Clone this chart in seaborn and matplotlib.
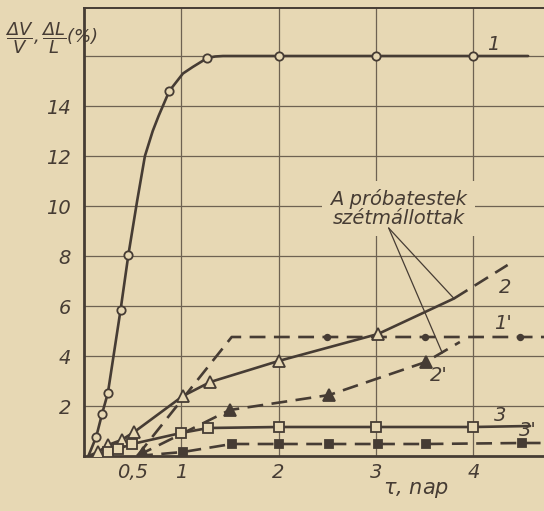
import matplotlib
matplotlib.use("Agg")
import matplotlib.pyplot as plt
import seaborn as sns
import pandas as pd

PAPER = "#e7d8b4"
INK = "#463c34"
GRID = "#6e6252"

# curve 1 - solid line, open circles (trace)
c1_line_x = [0.05, 0.13, 0.19, 0.25, 0.38, 0.46, 0.55, 0.63, 0.71, 0.77, 0.88, 1.02, 1.12, 1.27, 1.35, 1.43, 2.0, 3.0, 4.0, 4.56]
c1_line_y = [0.0, 0.76, 1.68, 2.52, 5.84, 8.04, 10.2, 12.0, 13.0, 13.6, 14.6, 15.3, 15.56, 15.92, 15.98, 16.0, 16.0, 16.0, 16.0, 16.0]
c1_pts_x = [0.13, 0.19, 0.25, 0.38, 0.46, 0.88, 1.27, 2.0, 3.0, 4.0]
c1_pts_y = [0.76, 1.68, 2.52, 5.84, 8.04, 14.6, 15.92, 16.0, 16.0, 16.0]

# curve 1' - dashed, small dots
c1p_x = [0.55, 1.52, 2.5, 3.5, 4.48, 4.75]
c1p_y = [0.0, 4.76, 4.76, 4.76, 4.76, 4.76]
c1p_pts_x = [2.5, 3.5, 4.48]
c1p_pts_y = [4.76, 4.76, 4.76]

# curve 2 - solid up to the break, then dashed
c2_x = [0.05, 0.15, 0.25, 0.39, 0.52, 1.02, 1.3, 2.0, 3.02, 3.8]
c2_y = [0.0, 0.16, 0.44, 0.64, 0.96, 2.4, 2.96, 3.8, 4.88, 6.3]
c2_pts_x = [0.15, 0.25, 0.39, 0.52, 1.02, 1.3, 2.0, 3.02]
c2_pts_y = [0.16, 0.44, 0.64, 0.96, 2.4, 2.96, 3.8, 4.88]
c2_tail_x = [3.8, 4.35]
c2_tail_y = [6.3, 7.64]

# curve 2' - dashed, filled triangles
c2p_x = [0.55, 0.61, 1.5, 2.52, 3.51, 3.86]
c2p_y = [0.0, 0.12, 1.84, 2.44, 3.76, 4.56]
c2p_pts_x = [0.61, 1.5, 2.52, 3.51]
c2p_pts_y = [0.12, 1.84, 2.44, 3.76]

# curve 3 - solid, open squares
c3_x = [0.05, 0.25, 0.35, 0.5, 1.0, 1.28, 2.0, 3.0, 4.0, 4.58]
c3_y = [0.0, 0.16, 0.28, 0.48, 0.92, 1.12, 1.16, 1.16, 1.16, 1.2]
c3_pts_x = [0.25, 0.35, 0.5, 1.0, 1.28, 2.0, 3.0, 4.0]
c3_pts_y = [0.16, 0.28, 0.48, 0.92, 1.12, 1.16, 1.16, 1.16]

# curve 3' - dashed, filled squares
c3p_x = [0.55, 1.02, 1.52, 2.0, 2.52, 3.02, 3.51, 4.5, 4.75]
c3p_y = [0.0, 0.16, 0.48, 0.48, 0.48, 0.48, 0.48, 0.52, 0.52]
c3p_pts_x = [1.02, 1.52, 2.0, 2.52, 3.02, 3.51, 4.5]
c3p_pts_y = [0.16, 0.48, 0.48, 0.48, 0.48, 0.48, 0.52]

y_ticks = [2, 4, 6, 8, 10, 12, 14, 16]
y_labels = ["2", "4", "6", "8", "10", "12", "14", ""]
x_ticks = [1, 2, 3, 4]
x_labels = ["1", "2", "3", "4"]

sns.set_style("white")
plt.rcParams["font.family"] = ["DejaVu Sans"]
plt.rcParams["font.style"] = "italic"
plt.rcParams["mathtext.fontset"] = "dejavusans"

fig = plt.figure(figsize=(5.44, 5.11), dpi=100, facecolor=PAPER)
ax = fig.add_axes([83.5 / 544, 55 / 511, 1 - 83.5 / 544, 448 / 511])
ax.set_facecolor(PAPER)

DASH_LS = (0, (6, 3.2))

def line(xs, ys, dashed=False):
    sns.lineplot(data=pd.DataFrame({"x": xs, "y": ys}), x="x", y="y", ax=ax,
                 color=INK, lw=1.9, sort=False, estimator=None, zorder=3,
                 linestyle=DASH_LS if dashed else "-")

def pts(xs, ys, marker, size, filled):
    ax.plot(xs, ys, ls="none", marker=marker, ms=size, mec=INK, mew=1.3,
            mfc=INK if filled else PAPER, zorder=4)

line(c1_line_x, c1_line_y)
pts(c1_pts_x, c1_pts_y, "o", 6, False)

line(c1p_x, c1p_y, dashed=True)
pts(c1p_pts_x, c1p_pts_y, "o", 4, True)

line(c2_x, c2_y)
line(c2_tail_x, c2_tail_y, dashed=True)
pts(c2_pts_x, c2_pts_y, "^", 9, False)

line(c2p_x, c2p_y, dashed=True)
pts(c2p_pts_x, c2p_pts_y, "^", 9, True)

line(c3_x, c3_y)
pts(c3_pts_x, c3_pts_y, "s", 7, False)

line(c3p_x, c3p_y, dashed=True)
pts(c3p_pts_x, c3p_pts_y, "s", 6, True)

ax.set_xlim(0, (544 - 83.5) / 97.5)
ax.set_ylim(0, 448 / 25)

ax.set_yticks(y_ticks)
ax.set_yticklabels(y_labels)
ax.set_xticks(x_ticks)
ax.set_xticklabels(x_labels)
ax.set_xticks([0.5], labels=["0,5"], minor=True)
ax.tick_params(axis="both", which="both", length=0, labelsize=14, labelcolor=INK)
ax.tick_params(axis="y", pad=9)
ax.tick_params(axis="x", which="both", pad=5)
ax.grid(True, which="major", color=GRID, lw=0.9)
ax.set_axisbelow(True)
ax.set_xlabel("")
ax.set_ylabel("")

for side in ["left", "bottom"]:
    ax.spines[side].set_color(INK)
    ax.spines[side].set_linewidth(2.0)
ax.spines["top"].set_color(INK)
ax.spines["top"].set_linewidth(1.4)
ax.spines["right"].set_visible(False)

# curve numbers
lab = dict(fontsize=14, color=INK, style="italic", ha="center", va="center", zorder=5)
ax.text(4.2, 16.44, "1", **lab)
ax.text(4.3, 5.3, "1'", **lab)
ax.text(4.32, 6.76, "2", **lab)
ax.text(3.64, 3.24, "2'", **lab)
ax.text(4.27, 1.64, "3", **lab)
ax.text(4.56, 1.04, "3'", **lab)

# note with leader lines
ax.text(3.23, 9.9, "A próbatestek\nszétmállottak", fontsize=14, color=INK, style="italic",
        ha="center", va="center", linespacing=0.95, zorder=2,
        bbox=dict(facecolor=PAPER, edgecolor="none", pad=6))
for tx, ty in [(c2_x[-1], c2_y[-1]), (3.68, 4.12)]:
    ax.annotate("", xy=(tx, ty), xytext=(3.13, 9.12),
                arrowprops=dict(arrowstyle="-", color=INK, lw=0.9, shrinkA=0, shrinkB=0), zorder=5)

fig.text(5 / 544, 1 - 38 / 511, r"$\dfrac{\Delta V}{V},\dfrac{\Delta L}{L}(\%)$", fontsize=13,
         color=INK, ha="left", va="center")
fig.text(383 / 544, 1 - 490 / 511, r"$\tau$, nap", fontsize=15, color=INK,
         style="italic", ha="left", va="center")

fig.savefig("out.png", dpi=100, facecolor=PAPER)
